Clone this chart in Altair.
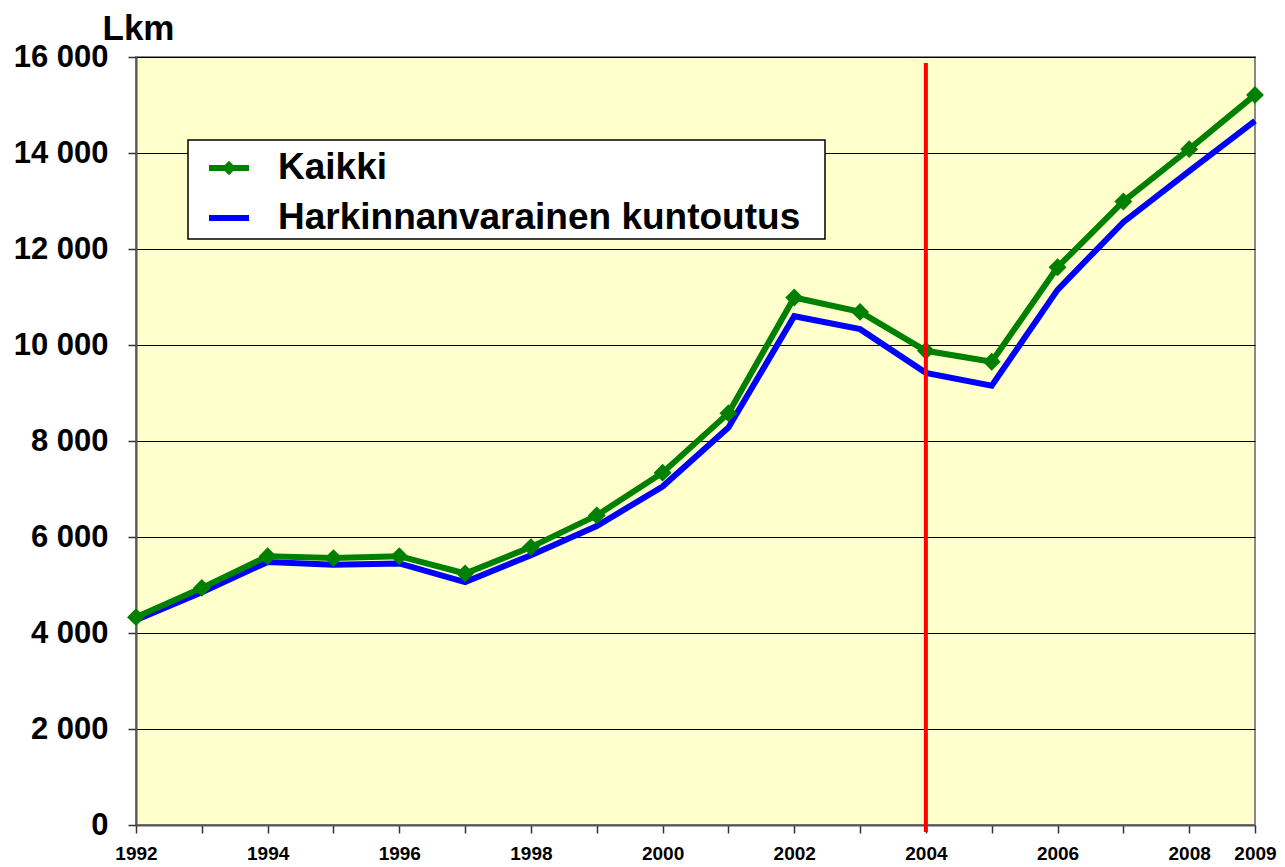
import altair as alt
import pandas as pd

# ---- data ----
years = list(range(1992, 2010))
kaikki = [4330, 4940, 5600, 5560, 5600, 5240, 5790, 6450, 7340, 8580,
          10990, 10690, 9880, 9650, 11620, 12990, 14080, 15210]
harkinnan = [4270, 4850, 5480, 5420, 5450, 5060, 5620, 6230, 7050, 8280,
             10600, 10330, 9420, 9150, 11150, 12560, 13620, 14670]
series_names = ["Kaikki", "Harkinnanvarainen kuntoutus"]
marker_year = [2004]
y_tick_values = [0, 2000, 4000, 6000, 8000, 10000, 12000, 14000, 16000]
x_label_years = [1992, 1994, 1996, 1998, 2000, 2002, 2004, 2006, 2008, 2009]

df_k = pd.DataFrame({"year": years, "value": kaikki, "series": series_names[0]})
df_h = pd.DataFrame({"year": years, "value": harkinnan, "series": series_names[1]})
df_marker = pd.DataFrame({"year": marker_year})
df_box = pd.DataFrame({"box": [0]})

FONT = "Liberation Sans"
GREEN = "#008000"
BLUE = "#0000FF"

label_list = "[" + ",".join(str(v) for v in x_label_years) + "]"

x_enc = alt.X(
    "year:Q",
    scale=alt.Scale(domain=[1992, 2009], nice=False, zero=False),
    axis=alt.Axis(
        values=years,
        format="d",
        labelExpr=f"indexof({label_list}, datum.value) >= 0 ? datum.label : ''",
        labelOverlap=False,
        labelFlush=False,
        labelFont=FONT,
        labelFontSize=19,
        labelFontWeight="bold",
        labelColor="black",
        labelPadding=11,
        tickSize=8,
        tickColor="#333333",
        tickWidth=1.5,
        domainColor="#555555",
        domainWidth=2,
        grid=False,
        title=None,
    ),
)

y_enc = alt.Y(
    "value:Q",
    scale=alt.Scale(domain=[0, 16000], nice=False),
    axis=alt.Axis(
        values=y_tick_values,
        labelExpr="datum.value >= 1000 ? floor(datum.value / 1000) + ' 000' : '0'",
        labelFont=FONT,
        labelFontSize=31,
        labelFontWeight="bold",
        labelColor="black",
        labelPadding=20,
        tickSize=8,
        tickColor="#333333",
        tickWidth=1.5,
        domainColor="#555555",
        domainWidth=2,
        grid=True,
        gridColor="black",
        gridWidth=1,
        title="Lkm",
        titleAngle=0,
        titleX=-34,
        titleY=-46,
        titleAlign="left",
        titleBaseline="top",
        titleFont=FONT,
        titleFontSize=35,
        titleFontWeight="bold",
        titleColor="black",
    ),
)

legend_common = dict(
    orient="none",
    title=None,
    padding=0,
    symbolSize=1600,
    symbolStrokeWidth=6,
    labelFont=FONT,
    labelFontSize=37,
    labelFontWeight="bold",
    labelColor="black",
    labelOffset=26,
    labelLimit=1000,
)

box = alt.Chart(df_box).mark_rect(fill="white", stroke="black", strokeWidth=1.5).encode(
    x=alt.value(52), x2=alt.value(689), y=alt.value(83), y2=alt.value(182)
)

blue_line = alt.Chart(df_h).mark_line(strokeWidth=6).encode(
    x=x_enc,
    y=y_enc,
    stroke=alt.Stroke(
        "series:N",
        scale=alt.Scale(domain=[series_names[1]], range=[BLUE]),
        legend=alt.Legend(legendX=70, legendY=138, symbolType="M-1,0H1", **legend_common),
    ),
)

green_line = alt.Chart(df_k).mark_line(strokeWidth=6).encode(
    x=x_enc,
    y=y_enc,
    color=alt.Color(
        "series:N",
        scale=alt.Scale(domain=[series_names[0]], range=[GREEN]),
        legend=alt.Legend(
            legendX=70,
            legendY=88,
            symbolType="M-1,0H1M0,-0.15L0.15,0L0,0.15L-0.15,0Z",
            **legend_common,
        ),
    ),
)

green_points = alt.Chart(df_k).mark_point(
    shape="diamond", size=320, filled=True, color=GREEN, opacity=1
).encode(x=x_enc, y=y_enc)

red_rule = alt.Chart(df_marker).mark_rule(color="#FF0000", strokeWidth=4).encode(
    x=alt.X("year:Q"), y=alt.value(6), y2=alt.value(775)
)

chart = (
    alt.layer(box, blue_line, green_line, green_points, red_rule)
    .properties(
        width=1119,
        height=768,
        autosize=alt.AutoSizeParams(type="none"),
        padding={"left": 128, "top": 49, "right": 22, "bottom": 41},
        background="white",
    )
    .configure_view(fill="#FFFFCC", stroke="#888888", strokeWidth=2)
)

chart.save("out.html", embed_options={"renderer": "svg", "actions": False})
